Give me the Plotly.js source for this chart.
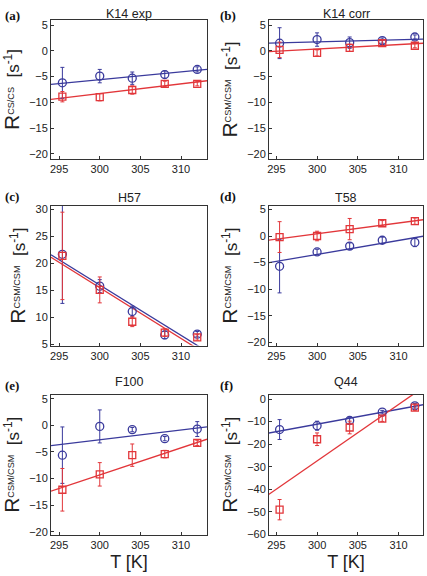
<!DOCTYPE html>
<html>
<head>
<meta charset="utf-8">
<script src="https://cdn.plot.ly/plotly-3.0.1.min.js"></script>
<style>html,body{margin:0;padding:0;background:#fff;}#chart{width:427px;height:576px;}</style>
</head>
<body>
<div id="chart"></div>
<script>
// Temperatures (K)
const T = [295.4, 300, 304, 308, 312];
const fitT = [294, 313.2];

// Panel titles and labels
const panelTitles = ["K14 exp", "K14 corr", "H57", "T58", "F100", "Q44"];
const panelLetters = ["(a)", "(b)", "(c)", "(d)", "(e)", "(f)"];
const yLabels = ["CS/CS", "CSM/CSM", "CSM/CSM", "CSM/CSM", "CSM/CSM", "CSM/CSM"];
const xTitle = "T [K]";

// (a) K14 exp
const aBlue = [-6.2, -4.9, -5.3, -4.6, -3.6];
const aBlueErr = [3.0, 1.3, 1.2, 0.7, 0.5];
const aRed = [-8.9, -9.0, -7.6, -6.4, -6.4];
const aRedErr = [1.0, 0.7, 0.8, 0.5, 0.4];
const aFitBlue = [-6.5, -3.6];
const aFitRed = [-9.4, -5.8];

// (b) K14 corr
const bBlue = [1.5, 2.2, 1.6, 2.0, 2.7];
const bBlueErr = [3.0, 1.3, 1.1, 0.5, 0.4];
const bRed = [0.2, -0.4, 0.6, 1.5, 1.0];
const bRedErr = [1.5, 0.6, 0.7, 0.5, 0.4];
const bFitBlue = [1.5, 2.3];
const bFitRed = [-0.15, 1.5];

// (c) H57
const cBlue = [21.7, 15.8, 11.1, 6.75, 6.9];
const cBlueErr = [9.1, 1.2, 1.0, 0.7, 0.5];
const cRed = [21.4, 15.1, 9.2, 7.2, 6.3];
const cRedErr = [8.1, 2.4, 0.9, 0.7, 0.5];
const cFitBlue = [21.6, 3.7];
const cFitRed = [21.15, 3.1];

// (d) T58
const dBlue = [-5.7, -3.0, -1.9, -0.8, -1.2];
const dBlueErr = [5.0, 0.5, 0.6, 0.6, 0.8];
const dRed = [-0.2, 0.0, 1.3, 2.4, 2.8];
const dRedErr = [2.9, 0.9, 2.0, 0.5, 0.6];
const dFitBlue = [-5.05, 0.0];
const dFitRed = [-0.8, 3.1];

// (e) F100
const eBlue = [-5.6, -0.2, -0.8, -2.5, -0.7];
const eBlueErr = [5.3, 3.1, 0.4, 0.4, 1.4];
const eRed = [-12.1, -9.2, -5.6, -5.4, -3.3];
const eRedErr = [4.0, 2.2, 2.1, 0.7, 0.5];
const eFitBlue = [-3.8, -0.3];
const eFitRed = [-12.35, -2.6];

// (f) Q44
const fBlue = [-13.5, -11.8, -9.5, -5.8, -3.0];
const fBlueErr = [4.4, 2.0, 1.2, 0.8, 1.0];
const fRed = [-49, -17.8, -12.6, -8.7, -3.8];
const fRedErr = [4.5, 2.8, 2.8, 1.2, 1.2];
const fFitBlue = [-15.1, -2.4];
const fFitRed = [-42.4, 5.6];

const panels = [
  {blue:aBlue, be:aBlueErr, red:aRed, re:aRedErr, fb:aFitBlue, fr:aFitRed, yr:[-21, 6], dt:5},
  {blue:bBlue, be:bBlueErr, red:bRed, re:bRedErr, fb:bFitBlue, fr:bFitRed, yr:[-21, 6], dt:5},
  {blue:cBlue, be:cBlueErr, red:cRed, re:cRedErr, fb:cFitBlue, fr:cFitRed, yr:[4.8, 30.7], dt:5},
  {blue:dBlue, be:dBlueErr, red:dRed, re:dRedErr, fb:dFitBlue, fr:dFitRed, yr:[-20.6, 5.7], dt:5},
  {blue:eBlue, be:eBlueErr, red:eRed, re:eRedErr, fb:eFitBlue, fr:eFitRed, yr:[-20.5, 5.7], dt:5},
  {blue:fBlue, be:fBlueErr, red:fRed, re:fRedErr, fb:fFitBlue, fr:fFitRed, yr:[-60, 1.8], dt:10}
];

const BLUE = "#3a3a9c";
const RED = "#e2363a";
const W = 427, H = 576;
const FONT = "Liberation Sans, Arial, sans-serif";
// pixel boxes
const colX = [[51, 207], [269, 423]];
const rowY = [[20, 159], [205.7, 345.5], [395, 534.5]];
const titleY = [14, 197.5, 382];
const letterY = [15.5, 197, 385.5];
const letterX = [3, 218];
const xRanges = [[294, 313.2], [294.1, 313]];

const traces = [];
const layout = {
  width: W, height: H,
  margin: {l: 0, r: 0, t: 0, b: 0},
  paper_bgcolor: "#fff", plot_bgcolor: "#fff",
  showlegend: false,
  font: {family: FONT, color: "#222"},
  annotations: []
};

panels.forEach((p, i) => {
  const col = i % 2, row = Math.floor(i / 2);
  const n = i + 1;
  const xa = n === 1 ? "x" : "x" + n;
  const ya = n === 1 ? "y" : "y" + n;
  const xk = n === 1 ? "xaxis" : "xaxis" + n;
  const yk = n === 1 ? "yaxis" : "yaxis" + n;
  const [l, r] = colX[col];
  const [t, b] = rowY[row];

  traces.push({x: fitT, y: p.fb, xaxis: xa, yaxis: ya, mode: "lines",
    line: {color: BLUE, width: 1.3}, hoverinfo: "skip"});
  traces.push({x: fitT, y: p.fr, xaxis: xa, yaxis: ya, mode: "lines",
    line: {color: RED, width: 1.3}, hoverinfo: "skip"});
  traces.push({x: T, y: p.blue, xaxis: xa, yaxis: ya, mode: "markers",
    marker: {symbol: "circle-open", size: 8, color: BLUE, line: {width: 1.3, color: BLUE}},
    error_y: {type: "data", array: p.be, visible: true, color: BLUE, thickness: 1, width: 2}});
  traces.push({x: T, y: p.red, xaxis: xa, yaxis: ya, mode: "markers",
    marker: {symbol: "square-open", size: 7, color: RED, line: {width: 1.3, color: RED}},
    error_y: {type: "data", array: p.re, visible: true, color: RED, thickness: 1, width: 2}});

  const common = {
    showline: true, mirror: true, linecolor: "#333", linewidth: 1,
    ticks: "inside", ticklen: 3, tickcolor: "#333", showgrid: false, zeroline: false,
    tickfont: {family: FONT, size: 11, color: "#222"},
    automargin: false
  };
  layout[xk] = Object.assign({}, common, {
    domain: [l / W, r / W], anchor: ya, range: xRanges[col],
    tickvals: [295, 300, 305, 310]
  });
  if (row === 2) {
    layout[xk].title = {text: xTitle, font: {size: 18, family: FONT, color: "#222"}, standoff: 5};
  }
  layout[yk] = Object.assign({}, common, {
    domain: [1 - b / H, 1 - t / H], anchor: xa, range: p.yr, dtick: p.dt, tick0: 0,
    title: {
      text: '<span style="font-size:21px">R</span><span style="font-size:13px"><sup>' + yLabels[i] +
            '</sup></span>  [s<sup>-1</sup>]',
      font: {size: 17, family: FONT, color: "#222"}, standoff: 5}
  });

  layout.annotations.push({
    text: panelTitles[i], xref: "paper", yref: "paper",
    x: ((l + r) / 2) / W, y: 1 - titleY[row] / H, xanchor: "center", yanchor: "middle",
    showarrow: false, font: {size: 12.5, family: FONT, color: "#222"}
  });
  layout.annotations.push({
    text: "<b>" + panelLetters[i] + "</b>", xref: "paper", yref: "paper",
    x: letterX[col] / W, y: 1 - letterY[row] / H, xanchor: "left", yanchor: "middle",
    showarrow: false, font: {size: 13, family: "Liberation Serif, Times New Roman, serif", color: "#111"}
  });
});

Plotly.newPlot("chart", traces, layout, {staticPlot: true});
</script>
</body>
</html>
